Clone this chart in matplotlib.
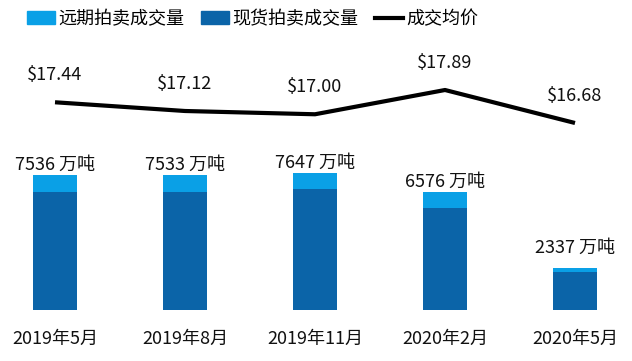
import matplotlib
matplotlib.use("Agg")
import matplotlib.pyplot as plt
from matplotlib.patches import Patch
from matplotlib.lines import Line2D

plt.rcParams['font.family'] = ['Noto Sans CJK SC', 'DejaVu Sans']

categories = ["2019年5月", "2019年8月", "2019年11月", "2020年2月", "2020年5月"]
spot = [6606, 6603, 6747, 5716, 2147]      # 现货拍卖成交量 (万吨)
forward = [930, 930, 900, 860, 190]        # 远期拍卖成交量 (万吨)
price = [17.44, 17.12, 17.00, 17.89, 16.68]  # 成交均价 ($)

c_light = "#0AA0E6"
c_dark = "#0B64A8"
FS = 13

W, H = 632, 361
fig = plt.figure(figsize=(W / 100, H / 100), dpi=100)
base_px = 310
ax = fig.add_axes([0, (H - base_px) / H, 1, base_px / H])
ax2 = ax.twinx()

x = list(range(len(categories)))
bw = 44 / 130
ax.bar(x, spot, width=bw, color=c_dark, zorder=2)
ax.bar(x, forward, width=bw, bottom=spot, color=c_light, zorder=2)
ax.set_xlim(-55 / 130, 577 / 130)
ax.set_ylim(0, base_px / 0.017914)

totals = [s + f for s, f in zip(spot, forward)]
label_off = [10, 10, 10, 10, 20]
for i, t in enumerate(totals):
    ax.annotate(f"{t} 万吨", (i, t), xytext=(0, label_off[i] * 0.72),
                textcoords="offset points", ha="center", va="center",
                fontsize=FS, color="#111111")

ax.set_xticks(x)
ax.set_xticklabels(categories, fontsize=FS, color="#111111")
ax.tick_params(axis="x", length=0, pad=14)
ax.set_yticks([])
for s in ax.spines.values():
    s.set_visible(False)

ax2.plot(x, price, color="black", lw=3, solid_capstyle="butt", zorder=3)
ax2.set_ylim(17.89 - 220 / 27.27, 17.89 + 90 / 27.27)
for i, p in enumerate(price):
    ax2.annotate(f"${p:.2f}", (i, p), xytext=(0, 27 * 0.72),
                 textcoords="offset points", ha="center", va="center",
                 fontsize=FS, color="#111111")
ax2.set_yticks([])
for s in ax2.spines.values():
    s.set_visible(False)

handles = [Patch(color=c_light), Patch(color=c_dark), Line2D([], [], color="black", lw=3)]
labels = ["远期拍卖成交量", "现货拍卖成交量", "成交均价"]
fig.legend(handles, labels, loc="center left", bbox_to_anchor=(27 / W, 1 - 19 / H),
           ncol=3, frameon=False, fontsize=FS, handlelength=1.55, handleheight=0.72,
           handletextpad=0.2, columnspacing=0.9, borderpad=0, borderaxespad=0)

fig.savefig("out.png", dpi=100)
